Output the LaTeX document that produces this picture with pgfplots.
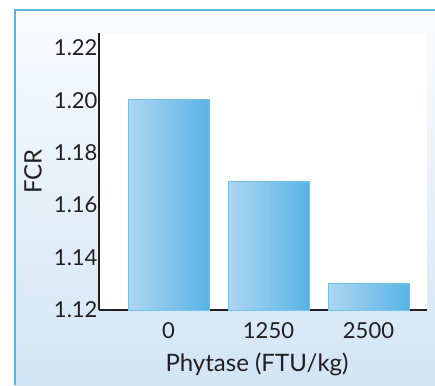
\documentclass[border=0pt]{standalone}
\usepackage{pgfplots}
\pgfplotsset{compat=1.18}
\usepackage{fontspec}
\setmainfont{Lato}
\definecolor{panelborder}{HTML}{5AB4E5}
\definecolor{paneltop}{HTML}{FAFCFE}
\definecolor{panelbot}{HTML}{D2E5F5}
\definecolor{barL}{HTML}{AED6F1}
\definecolor{barR}{HTML}{58B4E6}
\definecolor{baredge}{HTML}{72C2EC}
\definecolor{axisdark}{HTML}{231F20}
\begin{document}
\begin{tikzpicture}[x=1pt,y=1pt]
\path[use as bounding box] (0,0) rectangle (435,385);
\fill[top color=paneltop, bottom color=panelbot] (15,0) rectangle (435,375);
\draw[panelborder, line width=1.5pt] (15,0) -- (15,375) -- (435,375);
\begin{axis}[
  at={(99pt,75pt)}, anchor=south west,
  scale only axis, width=328pt, height=277pt,
  xmin=-0.695, xmax=2.585,
  ymin=1.12, ymax=1.2257,
  axis x line=bottom, axis y line=left,
  axis line style={-, line width=2pt, color=axisdark},
  axis background/.style={fill=white},
  xtick={0,1,2}, xticklabels={0,1250,2500},
  ytick={1.12,1.14,1.16,1.18,1.20,1.22},
  yticklabel style={/pgf/number format/fixed, /pgf/number format/fixed zerofill, /pgf/number format/precision=2, xshift=2pt},
  /pgf/number format/assume math mode=true,
  major tick length=0pt,
  tick label style={font=\fontsize{22}{25}\selectfont, text=axisdark},
  xticklabel style={anchor=base, yshift=-28pt},
  xlabel={Phytase (FTU/kg)}, ylabel={FCR},
  every axis x label/.style={at={(rel axis cs:0.5,0)}, anchor=base, xshift=-6pt, yshift=-61pt},
  every axis y label/.style={at={(rel axis cs:0,0.5)}, xshift=-66pt, yshift=0pt, anchor=center, rotate=90},
  label style={font=\fontsize{24}{27}\selectfont, text=axisdark},
  ybar, bar width=81pt,
  clip=false,
]
\addplot[ybar, bar shift=0pt, draw=baredge, line width=0.8pt, left color=barL, right color=barR]
  coordinates {(0,1.2005)};
\addplot[ybar, bar shift=0pt, draw=baredge, line width=0.8pt, left color=barL, right color=barR]
  coordinates {(1,1.1690)};
\addplot[ybar, bar shift=0pt, draw=baredge, line width=0.8pt, left color=barL, right color=barR]
  coordinates {(2,1.1300)};
\end{axis}
\end{tikzpicture}
\end{document}
